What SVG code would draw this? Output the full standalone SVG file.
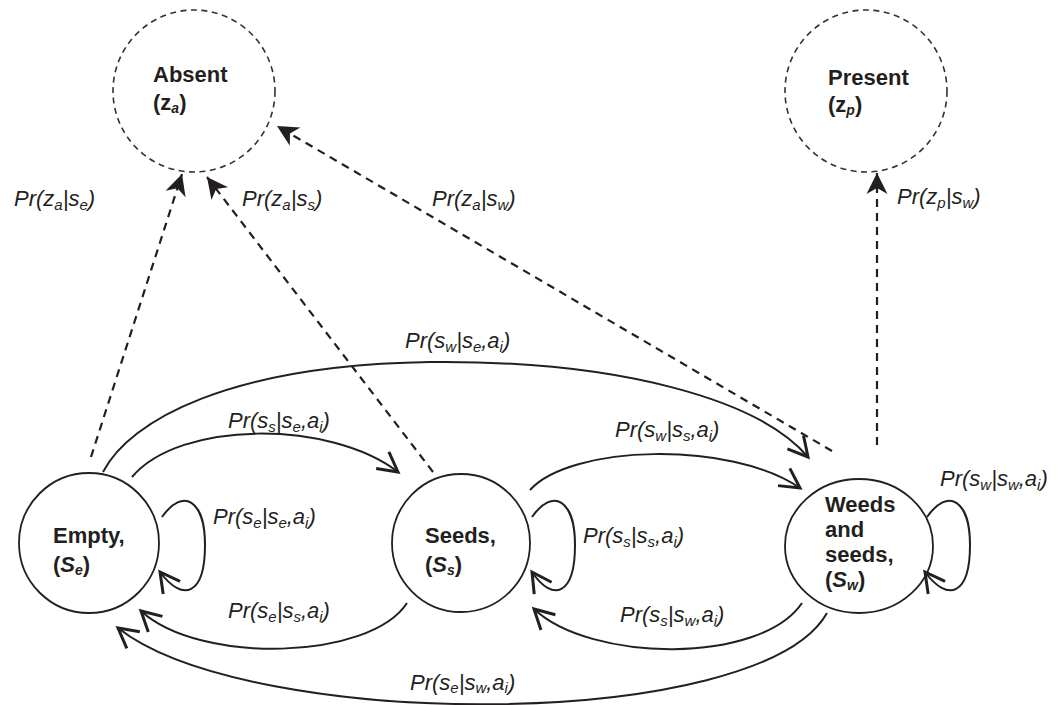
<svg xmlns="http://www.w3.org/2000/svg" width="1057" height="705" viewBox="0 0 1057 705">
  <style>
    .state { fill: #ffffff; stroke: #231f20; stroke-width: 1.8; }
    .obs { fill: #ffffff; stroke: #333333; stroke-width: 1.6; stroke-dasharray: 6 4.5; }
    .name { font-family: "Liberation Sans", Arial, sans-serif; font-weight: bold; font-size: 22px; fill: #231f20; }
    .nsub { font-size: 14px; font-style: italic; }
    .var { font-style: italic; }
    .lbl { font-family: "Liberation Sans", Arial, sans-serif; font-style: italic; font-size: 22px; fill: #231f20; }
    .sb { font-size: 15px; }
    .trans { fill: none; stroke: #231f20; stroke-width: 2; marker-end: url(#open); }
    .emit { fill: none; stroke: #231f20; stroke-width: 2.2; stroke-dasharray: 8 6; marker-end: url(#solid); }
  </style>
  <defs>
    <marker id="open" markerUnits="userSpaceOnUse" markerWidth="30" markerHeight="30" viewBox="-16 -10 20 20" refX="0" refY="0" orient="auto">
      <path d="M-13,-7 L0,0 L-13,7" fill="none" stroke="#231f20" stroke-width="2" stroke-dasharray="none"/>
    </marker>
    <marker id="solid" markerUnits="userSpaceOnUse" markerWidth="30" markerHeight="30" viewBox="-16 -10 20 20" refX="0" refY="0" orient="auto">
      <path d="M-14,-7 L0,0 L-14,7 L-10,0 Z" fill="#231f20" stroke="none"/>
    </marker>
  </defs>

  <!-- observation nodes -->
  <g id="absent">
    <circle class="obs" cx="194" cy="91" r="81"/>
    <text class="name" x="153" y="82">Absent</text>
    <text class="name" x="153" y="110">(z<tspan class="nsub" dy="3">a</tspan><tspan dy="-3">)</tspan></text>
  </g>
  <g id="present">
    <circle class="obs" cx="866" cy="91" r="81"/>
    <text class="name" x="828" y="85">Present</text>
    <text class="name" x="828" y="112">(z<tspan class="nsub" dy="3">p</tspan><tspan dy="-3">)</tspan></text>
  </g>

  <!-- hidden states -->
  <g id="empty">
    <circle class="state" cx="89" cy="543" r="70"/>
    <text class="name" x="53" y="543">Empty,</text>
    <text class="name" x="53" y="572">(<tspan class="var">S</tspan><tspan class="nsub" dy="3">e</tspan><tspan dy="-3">)</tspan></text>
  </g>
  <g id="seeds">
    <circle class="state" cx="461" cy="543" r="69"/>
    <text class="name" x="425" y="543">Seeds,</text>
    <text class="name" x="425" y="572">(<tspan class="var">S</tspan><tspan class="nsub" dy="3">s</tspan><tspan dy="-3">)</tspan></text>
  </g>
  <g id="weeds">
    <ellipse class="state" cx="859" cy="546" rx="74" ry="67"/>
    <text class="name" x="825" y="512">Weeds</text>
    <text class="name" x="825" y="537">and</text>
    <text class="name" x="825" y="562">seeds,</text>
    <text class="name" x="825" y="587">(<tspan class="var">S</tspan><tspan class="nsub" dy="3">w</tspan><tspan dy="-3">)</tspan></text>
  </g>

  <!-- connectors -->
  <g id="connectors">
    <!-- observation probabilities -->
    <path class="emit" d="M91,457 L182,174"/>
    <path class="emit" d="M433,472 L207,177"/>
    <path class="emit" d="M832,451 L277,126"/>
    <path class="emit" d="M877,445 L877,173"/>

    <!-- forward transitions -->
    <path class="trans" d="M132,477 C180,420 330,420 398,472"/>
    <path class="trans" d="M103,472 C130,420 230,365 430,362 C620,360 760,400 808,457"/>
    <path class="trans" d="M530,490 C570,445 730,440 800,488"/>

    <!-- self transitions -->
    <path class="trans" d="M162,517 C183,487 205,500 205,545 C205,595 183,603 160,572"/>
    <path class="trans" d="M532,517 C553,487 575,500 575,545 C575,595 553,603 532,572"/>
    <path class="trans" d="M927,517 C948,487 970,500 970,545 C970,595 948,603 925,572"/>

    <!-- backward transitions -->
    <path class="trans" d="M407,603 C370,660 200,665 141,611"/>
    <path class="trans" d="M802,603 C760,665 590,662 534,609"/>
    <path class="trans" d="M827,613 C760,732 250,732 118,628"/>
  </g>

  <!-- probability labels -->
  <g id="labels">
    <text class="lbl" x="14" y="206">Pr(z<tspan class="sb" dy="4">a</tspan><tspan dy="-4">|s</tspan><tspan class="sb" dy="4">e</tspan><tspan dy="-4">)</tspan></text>
    <text class="lbl" x="242" y="206">Pr(z<tspan class="sb" dy="4">a</tspan><tspan dy="-4">|s</tspan><tspan class="sb" dy="4">s</tspan><tspan dy="-4">)</tspan></text>
    <text class="lbl" x="432" y="206">Pr(z<tspan class="sb" dy="4">a</tspan><tspan dy="-4">|s</tspan><tspan class="sb" dy="4">w</tspan><tspan dy="-4">)</tspan></text>
    <text class="lbl" x="897" y="204">Pr(z<tspan class="sb" dy="4">p</tspan><tspan dy="-4">|s</tspan><tspan class="sb" dy="4">w</tspan><tspan dy="-4">)</tspan></text>

    <text class="lbl" x="405" y="348">Pr(s<tspan class="sb" dy="4">w</tspan><tspan dy="-4">|s</tspan><tspan class="sb" dy="4">e</tspan><tspan dy="-4">,a</tspan><tspan class="sb" dy="4">i</tspan><tspan dy="-4">)</tspan></text>
    <text class="lbl" x="228" y="428">Pr(s<tspan class="sb" dy="4">s</tspan><tspan dy="-4">|s</tspan><tspan class="sb" dy="4">e</tspan><tspan dy="-4">,a</tspan><tspan class="sb" dy="4">i</tspan><tspan dy="-4">)</tspan></text>
    <text class="lbl" x="615" y="437">Pr(s<tspan class="sb" dy="4">w</tspan><tspan dy="-4">|s</tspan><tspan class="sb" dy="4">s</tspan><tspan dy="-4">,a</tspan><tspan class="sb" dy="4">i</tspan><tspan dy="-4">)</tspan></text>

    <text class="lbl" x="213" y="524">Pr(s<tspan class="sb" dy="4">e</tspan><tspan dy="-4">|s</tspan><tspan class="sb" dy="4">e</tspan><tspan dy="-4">,a</tspan><tspan class="sb" dy="4">i</tspan><tspan dy="-4">)</tspan></text>
    <text class="lbl" x="583" y="543">Pr(s<tspan class="sb" dy="4">s</tspan><tspan dy="-4">|s</tspan><tspan class="sb" dy="4">s</tspan><tspan dy="-4">,a</tspan><tspan class="sb" dy="4">i</tspan><tspan dy="-4">)</tspan></text>
    <text class="lbl" x="940" y="486">Pr(s<tspan class="sb" dy="4">w</tspan><tspan dy="-4">|s</tspan><tspan class="sb" dy="4">w</tspan><tspan dy="-4">,a</tspan><tspan class="sb" dy="4">i</tspan><tspan dy="-4">)</tspan></text>

    <text class="lbl" x="228" y="618">Pr(s<tspan class="sb" dy="4">e</tspan><tspan dy="-4">|s</tspan><tspan class="sb" dy="4">s</tspan><tspan dy="-4">,a</tspan><tspan class="sb" dy="4">i</tspan><tspan dy="-4">)</tspan></text>
    <text class="lbl" x="620" y="622">Pr(s<tspan class="sb" dy="4">s</tspan><tspan dy="-4">|s</tspan><tspan class="sb" dy="4">w</tspan><tspan dy="-4">,a</tspan><tspan class="sb" dy="4">i</tspan><tspan dy="-4">)</tspan></text>
    <text class="lbl" x="410" y="690">Pr(s<tspan class="sb" dy="3">e</tspan><tspan dy="-3">|s</tspan><tspan class="sb" dy="3">w</tspan><tspan dy="-3">,a</tspan><tspan class="sb" dy="3">i</tspan><tspan dy="-3">)</tspan></text>
  </g>
</svg>
